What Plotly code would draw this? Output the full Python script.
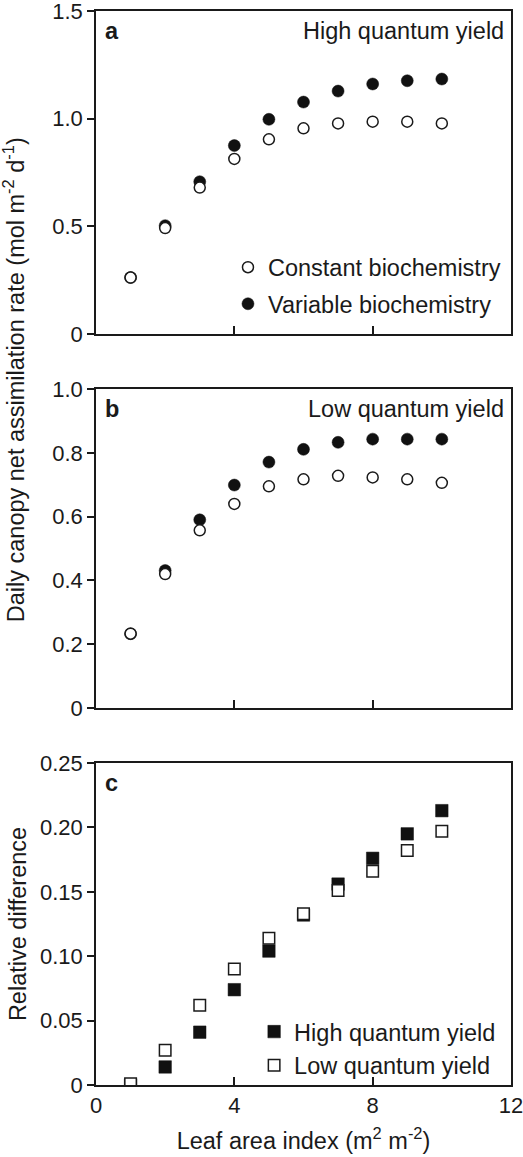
import plotly.graph_objects as go
from plotly.subplots import make_subplots

# ---------------- data ----------------
lai = [1, 2, 3, 4, 5, 6, 7, 8, 9, 10]

a_constant = [0.262, 0.492, 0.680, 0.813, 0.904, 0.955, 0.978, 0.986, 0.986, 0.978]
a_variable = [0.262, 0.503, 0.707, 0.875, 0.997, 1.077, 1.128, 1.161, 1.176, 1.184]

b_constant = [0.233, 0.420, 0.557, 0.640, 0.695, 0.717, 0.728, 0.723, 0.717, 0.706]
b_variable = [0.233, 0.431, 0.590, 0.699, 0.771, 0.811, 0.833, 0.843, 0.843, 0.843]

c_high = [0.000, 0.014, 0.041, 0.074, 0.104, 0.132, 0.156, 0.176, 0.195, 0.213]
c_low = [0.001, 0.027, 0.062, 0.090, 0.114, 0.133, 0.151, 0.166, 0.182, 0.197]

x_ticks = [0, 4, 8, 12]
x_ticklabels = ["0", "4", "8", "12"]
a_ticks = [0, 0.5, 1.0, 1.5]
a_ticklabels = ["0", "0.5", "1.0", "1.5"]
b_ticks = [0, 0.2, 0.4, 0.6, 0.8, 1.0]
b_ticklabels = ["0", "0.2", "0.4", "0.6", "0.8", "1.0"]
c_ticks = [0, 0.05, 0.10, 0.15, 0.20, 0.25]
c_ticklabels = ["0", "0.05", "0.10", "0.15", "0.20", "0.25"]

# ---------------- style ----------------
FONT = "Liberation Sans, Arial, Helvetica, sans-serif"
FS = 23.5
TFS = 22
INK = "#1a1a1a"
FILL = "#111111"

fig = make_subplots(rows=3, cols=1)

open_circle = dict(symbol="circle", size=11, color="white", line=dict(color=INK, width=1.5))
filled_circle = dict(symbol="circle", size=12, color=FILL, line=dict(color=FILL, width=0.5))
open_square = dict(symbol="square", size=11.5, color="white", line=dict(color=INK, width=1.5))
filled_square = dict(symbol="square", size=12.5, color=FILL, line=dict(color=FILL, width=0.5))

# panel a (variable drawn first, constant on top)
fig.add_trace(go.Scatter(x=lai, y=a_variable, mode="markers", marker=filled_circle,
                         name="Variable biochemistry", legend="legend", legendrank=2,
                         legendgroup="var"), row=1, col=1)
fig.add_trace(go.Scatter(x=lai, y=a_constant, mode="markers", marker=open_circle,
                         name="Constant biochemistry", legend="legend", legendrank=1,
                         legendgroup="const"), row=1, col=1)
# panel b
fig.add_trace(go.Scatter(x=lai, y=b_variable, mode="markers", marker=filled_circle,
                         showlegend=False), row=2, col=1)
fig.add_trace(go.Scatter(x=lai, y=b_constant, mode="markers", marker=open_circle,
                         showlegend=False), row=2, col=1)
# panel c
fig.add_trace(go.Scatter(x=lai, y=c_high, mode="markers", marker=filled_square,
                         name="High quantum yield", legend="legend2"), row=3, col=1)
fig.add_trace(go.Scatter(x=lai, y=c_low, mode="markers", marker=open_square,
                         name="Low quantum yield", legend="legend2"), row=3, col=1)

domains = {1: [0.6993, 1.0], 2: [0.3510, 0.6480], 3: [0.0, 0.2998]}
yticks = {1: (a_ticks, a_ticklabels, [0, 1.5]),
          2: (b_ticks, b_ticklabels, [0, 1.0]),
          3: (c_ticks, c_ticklabels, [0, 0.25])}

for r in (1, 2, 3):
    fig.update_xaxes(row=r, col=1, range=[0, 12], tickvals=x_ticks, ticktext=x_ticklabels,
                     showticklabels=(r == 3), ticks="inside", ticklen=8, tickwidth=1.5,
                     tickcolor=INK, showline=True, linecolor=INK, linewidth=1.5, mirror=True,
                     showgrid=False, zeroline=False, domain=[0, 1], automargin=False,
                     ticklabeloverflow="allow",
                     tickfont=dict(family=FONT, size=TFS, color=INK))
    tv, tt, rng = yticks[r]
    fig.update_yaxes(row=r, col=1, range=rng, tickvals=tv, ticktext=tt,
                     ticks="outside", ticklen=7, tickwidth=1.5, tickcolor=INK,
                     showline=True, linecolor=INK, linewidth=1.5, mirror=True,
                     showgrid=False, zeroline=False, domain=domains[r], automargin=False,
                     ticklabeloverflow="allow",
                     tickfont=dict(family=FONT, size=TFS, color=INK))

fig.update_xaxes(row=3, col=1, title=dict(text="Leaf area index (m<sup>2</sup> m<sup>-2</sup>)",
                                          font=dict(family=FONT, size=FS, color=INK), standoff=15))
fig.update_yaxes(row=3, col=1, title=dict(text="Relative difference",
                                          font=dict(family=FONT, size=FS, color=INK), standoff=7))

ann_font = dict(family=FONT, size=FS, color=INK)
for r, lab in ((1, "a"), (2, "b"), (3, "c")):
    suffix = "" if r == 1 else str(r)
    fig.add_annotation(text="<b>%s</b>" % lab, xref="x%s domain" % suffix, yref="y%s domain" % suffix,
                       x=0.016, y=0.985, xanchor="left", yanchor="top", showarrow=False, font=ann_font)
fig.add_annotation(text="High quantum yield", xref="x domain", yref="y domain",
                   x=0.988, y=0.985, xanchor="right", yanchor="top", showarrow=False, font=ann_font)
fig.add_annotation(text="Low quantum yield", xref="x2 domain", yref="y2 domain",
                   x=0.988, y=0.985, xanchor="right", yanchor="top", showarrow=False, font=ann_font)
fig.add_annotation(text="Daily canopy net assimilation rate (mol m<sup>-2</sup> d<sup>-1</sup>)",
                   xref="paper", yref="paper", x=-0.197, y=0.6564, textangle=-90,
                   xanchor="center", yanchor="middle", showarrow=False, font=ann_font)

fig.update_layout(
    width=523, height=1157,
    margin=dict(l=96, r=12, t=11, b=72, autoexpand=False),
    paper_bgcolor="white", plot_bgcolor="white",
    font=dict(family=FONT, size=FS, color=INK),
    legend=dict(x=0.318, y=0.7817, xanchor="left", yanchor="top", bgcolor="rgba(0,0,0,0)",
                traceorder="grouped", tracegroupgap=3, itemwidth=30,
                font=dict(family=FONT, size=FS, color=INK)),
    legend2=dict(x=0.381, y=0.0700, xanchor="left", yanchor="top", bgcolor="rgba(0,0,0,0)",
                 traceorder="normal", itemwidth=30,
                 font=dict(family=FONT, size=FS, color=INK)),
    showlegend=True,
)

fig.write_html("out.html", config={"displayModeBar": False},
               post_script="document.body.style.margin='0px';")
